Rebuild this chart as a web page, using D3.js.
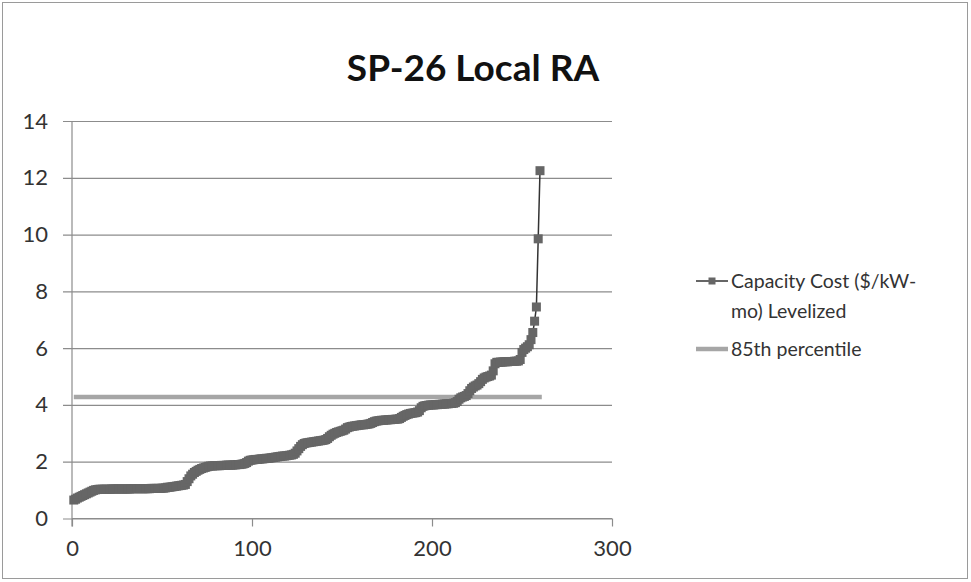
<!DOCTYPE html>
<html><head><meta charset="utf-8">
<script src="https://cdn.jsdelivr.net/npm/d3@7"></script>
<style>html,body{margin:0;padding:0;background:#fff;}svg{display:block;}</style>
</head><body>
<svg id="c" width="971" height="582"></svg>
<script>
const title = "SP-26 Local RA";
const seriesName = ["Capacity Cost ($/kW-", "mo) Levelized"];
const percentileName = "85th percentile";
const xTicks = [0, 100, 200, 300];
const yTicks = [0, 2, 4, 6, 8, 10, 12, 14];
const percentileValue = 4.28;
const percentileRange = [1, 261];
const costValues = [
  0.65,0.68,0.72,0.75,0.78,0.81,0.84,0.87,0.9,0.93,
  0.96,0.99,1.01,1.02,1.03,1.03,1.03,1.03,1.03,1.03,
  1.03,1.04,1.04,1.04,1.04,1.04,1.04,1.04,1.04,1.04,
  1.04,1.04,1.05,1.05,1.05,1.05,1.05,1.05,1.05,1.05,
  1.05,1.05,1.05,1.06,1.06,1.06,1.06,1.06,1.06,1.07,
  1.07,1.08,1.1,1.1,1.11,1.12,1.13,1.14,1.15,1.16,
  1.17,1.18,1.2,1.3,1.4,1.5,1.56,1.62,1.66,1.7,
  1.73,1.76,1.78,1.8,1.82,1.84,1.85,1.85,1.86,1.86,
  1.86,1.86,1.87,1.87,1.87,1.88,1.88,1.88,1.88,1.89,
  1.89,1.9,1.9,1.91,1.92,1.94,1.97,2.02,2.05,2.06,
  2.07,2.08,2.08,2.09,2.1,2.1,2.11,2.12,2.12,2.13,
  2.14,2.15,2.16,2.17,2.18,2.19,2.2,2.2,2.21,2.22,
  2.23,2.24,2.26,2.3,2.38,2.46,2.54,2.6,2.64,2.66,
  2.67,2.68,2.69,2.7,2.71,2.72,2.73,2.74,2.75,2.76,
  2.78,2.82,2.88,2.93,2.97,3.0,3.03,3.05,3.07,3.09,
  3.11,3.15,3.2,3.22,3.24,3.25,3.26,3.27,3.28,3.29,
  3.3,3.3,3.31,3.32,3.33,3.35,3.38,3.41,3.43,3.44,
  3.45,3.46,3.46,3.47,3.47,3.48,3.48,3.49,3.49,3.5,
  3.5,3.52,3.56,3.6,3.63,3.66,3.68,3.7,3.71,3.72,
  3.73,3.75,3.8,3.9,3.95,3.97,3.98,3.99,4.0,4.0,
  4.0,4.01,4.01,4.02,4.02,4.03,4.03,4.04,4.04,4.05,
  4.05,4.06,4.08,4.12,4.2,4.25,4.28,4.3,4.33,4.4,
  4.5,4.58,4.63,4.67,4.7,4.75,4.82,4.9,4.95,4.98,
  5.0,5.02,5.05,5.2,5.45,5.5,5.5,5.51,5.51,5.52,
  5.52,5.52,5.53,5.53,5.53,5.54,5.54,5.55,5.6,5.85,
  5.95,6.0,6.05,6.12,6.3,6.55,6.95,7.45,9.85,12.25
];

const svg = d3.select("#c");
const FONT = "Lato, 'Open Sans', sans-serif";
const pLeft = 72, pRight = 612, pTop = 121, pBottom = 518.5;
const x = d3.scaleLinear().domain([0, 300]).range([pLeft, pRight]);
const y = d3.scaleLinear().domain([0, 14]).range([pBottom, pTop]);

// outer frame
svg.append("rect").attr("x", 2.5).attr("y", 2.5).attr("width", 965).attr("height", 576)
  .attr("fill", "none").attr("stroke", "#9a9a9a").attr("stroke-width", 1);

// title
svg.append("text").attr("x", 473).attr("y", 81).attr("text-anchor", "middle")
  .attr("font-family", FONT).attr("font-weight", "bold").attr("font-size", 37)
  .attr("fill", "#111").text(title);

// gridlines + y axis
const yAxis = d3.axisLeft(y).tickValues(yTicks).tickSize(-(pRight - pLeft)).tickPadding(24);
const gy = svg.append("g").attr("transform", `translate(${pLeft},0)`).call(yAxis);
gy.select(".domain").remove();
gy.selectAll(".tick line").attr("stroke", "#8c8c8c").attr("stroke-width", 1.2).attr("x1", -9);
gy.selectAll(".tick text").attr("font-family", FONT).attr("font-size", 22).attr("fill", "#333");

// x axis
const xAxis = d3.axisBottom(x).tickValues(xTicks).tickSize(8).tickPadding(14);
const gx = svg.append("g").attr("transform", `translate(0,${pBottom})`).call(xAxis);
gx.select(".domain").attr("stroke", "#8c8c8c").attr("stroke-width", 1.2).attr("d", `M${pLeft},0H${pRight}`);
gx.selectAll(".tick line").attr("stroke", "#8c8c8c").attr("stroke-width", 1.2);
gx.selectAll(".tick text").attr("font-family", FONT).attr("font-size", 22).attr("fill", "#333");

// vertical axis line
svg.append("line").attr("x1", pLeft).attr("x2", pLeft).attr("y1", pTop).attr("y2", pBottom + 8)
  .attr("stroke", "#8c8c8c").attr("stroke-width", 1.2);

// 85th percentile line
svg.append("line")
  .attr("x1", x(percentileRange[0])).attr("x2", x(percentileRange[1]))
  .attr("y1", y(percentileValue)).attr("y2", y(percentileValue))
  .attr("stroke", "#a6a6a6").attr("stroke-width", 4.5);

// cost series
const data = costValues.map((v, i) => ({ x: i + 1, v }));
const line = d3.line().x(d => x(d.x)).y(d => y(d.v));
svg.append("path").datum(data).attr("d", line).attr("fill", "none")
  .attr("stroke", "#333").attr("stroke-width", 1.5);
const ms = 9;
svg.append("g").selectAll("rect").data(data).join("rect")
  .attr("x", d => x(d.x) - ms / 2).attr("y", d => y(d.v) - ms / 2)
  .attr("width", ms).attr("height", ms).attr("fill", "#666");

// legend
const lx0 = 696, lx1 = 728, tx = 731;
const ly1 = 281, ly2 = 349;
svg.append("line").attr("x1", lx0).attr("x2", lx1).attr("y1", ly1).attr("y2", ly1)
  .attr("stroke", "#333").attr("stroke-width", 1.5);
svg.append("rect").attr("x", (lx0 + lx1) / 2 - 3.5).attr("y", ly1 - 3.5).attr("width", 7).attr("height", 7)
  .attr("fill", "#666");
const t1 = svg.append("text").attr("x", tx).attr("y", ly1).attr("dy", "0.35em")
  .attr("font-family", FONT).attr("font-size", 19.5).attr("fill", "#333");
t1.append("tspan").attr("x", tx).text(seriesName[0]);
t1.append("tspan").attr("x", tx).attr("dy", 30).text(seriesName[1]);
svg.append("line").attr("x1", lx0).attr("x2", lx1).attr("y1", ly2).attr("y2", ly2)
  .attr("stroke", "#a6a6a6").attr("stroke-width", 4.5);
svg.append("text").attr("x", tx).attr("y", ly2).attr("dy", "0.35em")
  .attr("font-family", FONT).attr("font-size", 19.5).attr("fill", "#333").text(percentileName);
</script>
</body></html>
